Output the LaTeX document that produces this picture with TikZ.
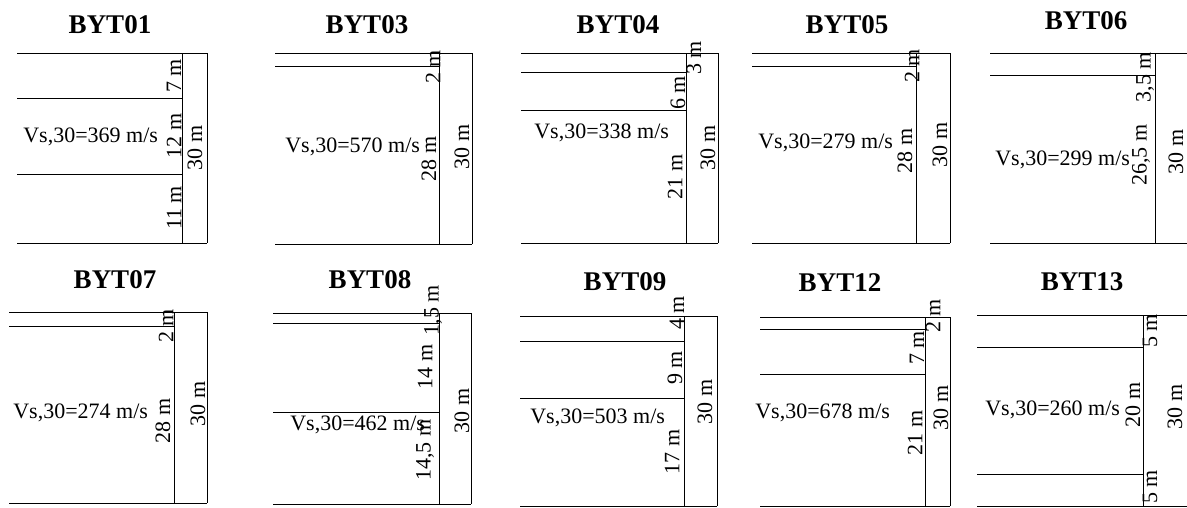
\documentclass[tikz,border=0pt]{standalone}
\usepackage{fontspec}
\setmainfont{Liberation Serif}
\tikzset{
  ttl/.style={font=\fontsize{27}{30}\selectfont\bfseries, inner sep=0pt},
  vs/.style={font=\fontsize{22}{24}\selectfont, inner sep=0pt, anchor=west},
  dep/.style={font=\fontsize{22}{24}\selectfont, inner sep=0pt, rotate=90}
}
\begin{document}
\begin{tikzpicture}[x=1pt,y=-1pt,line width=0.7pt]
\useasboundingbox (0,0) rectangle (1187,507);

\node[ttl] (t01) at (110,25) {BYT01};
\draw (17,53) -- (207,53);
\draw (17,243) -- (207,243);
\foreach \y in {98,174} {
\draw (17,\y) -- (182,\y);}
\draw (182,53) -- (182,243);
\draw (207,53) -- (207,243);
\node[vs] (v01) at (23,137) {Vs,30=369 m/s};
\node[dep] (d01a) at (174,76) {7 m};
\node[dep] (d01b) at (174,136) {12 m};
\node[dep] (d01c) at (174,208) {11 m};
\node[dep] (d01t) at (195,148) {30 m};

\node[ttl] (t03) at (367,25) {BYT03};
\draw (275,53) -- (472,53);
\draw (275,244) -- (472,244);
\draw (275,66) -- (439,66);
\draw (439,53) -- (439,244);
\draw (472,53) -- (472,244);
\node[vs] (v03) at (285,147) {Vs,30=570 m/s};
\node[dep] (d03a) at (433,67) {2 m};
\node[dep] (d03b) at (429,159) {28 m};
\node[dep] (d03t) at (462,147) {30 m};

\node[ttl] (t04) at (618,25) {BYT04};
\draw (521,53) -- (718,53);
\draw (521,243) -- (718,243);
\foreach \y in {72,110} {
\draw (521,\y) -- (686,\y);}
\draw (686,53) -- (686,243);
\draw (718,53) -- (718,243);
\node[vs] (v04) at (534,133) {Vs,30=338 m/s};
\node[dep] (d04a) at (694,58) {3 m};
\node[dep] (d04b) at (678,93) {6 m};
\node[dep] (d04c) at (675,177) {21 m};
\node[dep] (d04t) at (708,148) {30 m};

\node[ttl] (t05) at (847,25) {BYT05};
\draw (752,53) -- (950,53);
\draw (752,243) -- (950,243);
\draw (752,66) -- (916,66);
\draw (916,53) -- (916,243);
\draw (950,53) -- (950,243);
\node[vs] (v05) at (758,143) {Vs,30=279 m/s};
\node[dep] (d05a) at (912,66) {2 m};
\node[dep] (d05b) at (905,151) {28 m};
\node[dep] (d05t) at (940,145) {30 m};

\node[ttl] (t06) at (1086,21) {BYT06};
\draw (990,53) -- (1187,53);
\draw (990,243) -- (1187,243);
\draw (990,75) -- (1155,75);
\draw (1155,53) -- (1155,243);
\node[vs] (v06) at (995,160) {Vs,30=299 m/s};
\node[dep] (d06a) at (1145,77) {3,5 m};
\node[dep] (d06b) at (1141,155) {26,5 m};
\node[dep] (d06t) at (1176,152) {30 m};

\node[ttl] (t07) at (115,280) {BYT07};
\draw (9,312) -- (207,312);
\draw (9,503) -- (207,503);
\draw (9,326) -- (174,326);
\draw (174,312) -- (174,503);
\draw (207,312) -- (207,503);
\node[vs] (v07) at (13,413) {Vs,30=274 m/s};
\node[dep] (d07a) at (166,326) {2 m};
\node[dep] (d07b) at (163,421) {28 m};
\node[dep] (d07t) at (198,404) {30 m};

\node[ttl] (t08) at (370,280) {BYT08};
\draw (273,313) -- (471,313);
\draw (273,504) -- (471,504);
\foreach \y in {323,412} {
\draw (273,\y) -- (439,\y);}
\draw (439,313) -- (439,504);
\draw (471,313) -- (471,504);
\node[vs] (v08) at (290,425) {Vs,30=462 m/s};
\node[dep] (d08a) at (433,310) {1,5 m};
\node[dep] (d08b) at (425,367) {14 m};
\node[dep] (d08c) at (425,450) {14,5 m};
\node[dep] (d08t) at (462,411) {30 m};

\node[ttl] (t09) at (625,282) {BYT09};
\draw (520,316) -- (717,316);
\draw (520,506) -- (717,506);
\foreach \y in {341,398} {
\draw (520,\y) -- (684,\y);}
\draw (684,316) -- (684,506);
\draw (717,316) -- (717,506);
\node[vs] (v09) at (530,418) {Vs,30=503 m/s};
\node[dep] (d09a) at (677,313) {4 m};
\node[dep] (d09b) at (675,368) {9 m};
\node[dep] (d09c) at (672,452) {17 m};
\node[dep] (d09t) at (705,402) {30 m};

\node[ttl] (t12) at (840,283) {BYT12};
\draw (760,317) -- (950,317);
\draw (760,506) -- (950,506);
\foreach \y in {329,374} {
\draw (760,\y) -- (925,\y);}
\draw (925,317) -- (925,506);
\draw (950,317) -- (950,506);
\node[vs] (v12) at (755,413) {Vs,30=678 m/s};
\node[dep] (d12a) at (933,316) {2 m};
\node[dep] (d12b) at (917,348) {7 m};
\node[dep] (d12c) at (915,433) {21 m};
\node[dep] (d12t) at (941,408) {30 m};

\node[ttl] (t13) at (1082,282) {BYT13};
\draw (977,315) -- (1187,315);
\draw (977,506) -- (1187,506);
\foreach \y in {347,474} {
\draw (977,\y) -- (1143,\y);}
\draw (1143,315) -- (1143,506);
\node[vs] (v13) at (985,410) {Vs,30=260 m/s};
\node[dep] (d13a) at (1150,331) {5 m};
\node[dep] (d13b) at (1133,405) {20 m};
\node[dep] (d13c) at (1150,487) {5 m};
\node[dep] (d13t) at (1175,407) {30 m};
\end{tikzpicture}
\end{document}
